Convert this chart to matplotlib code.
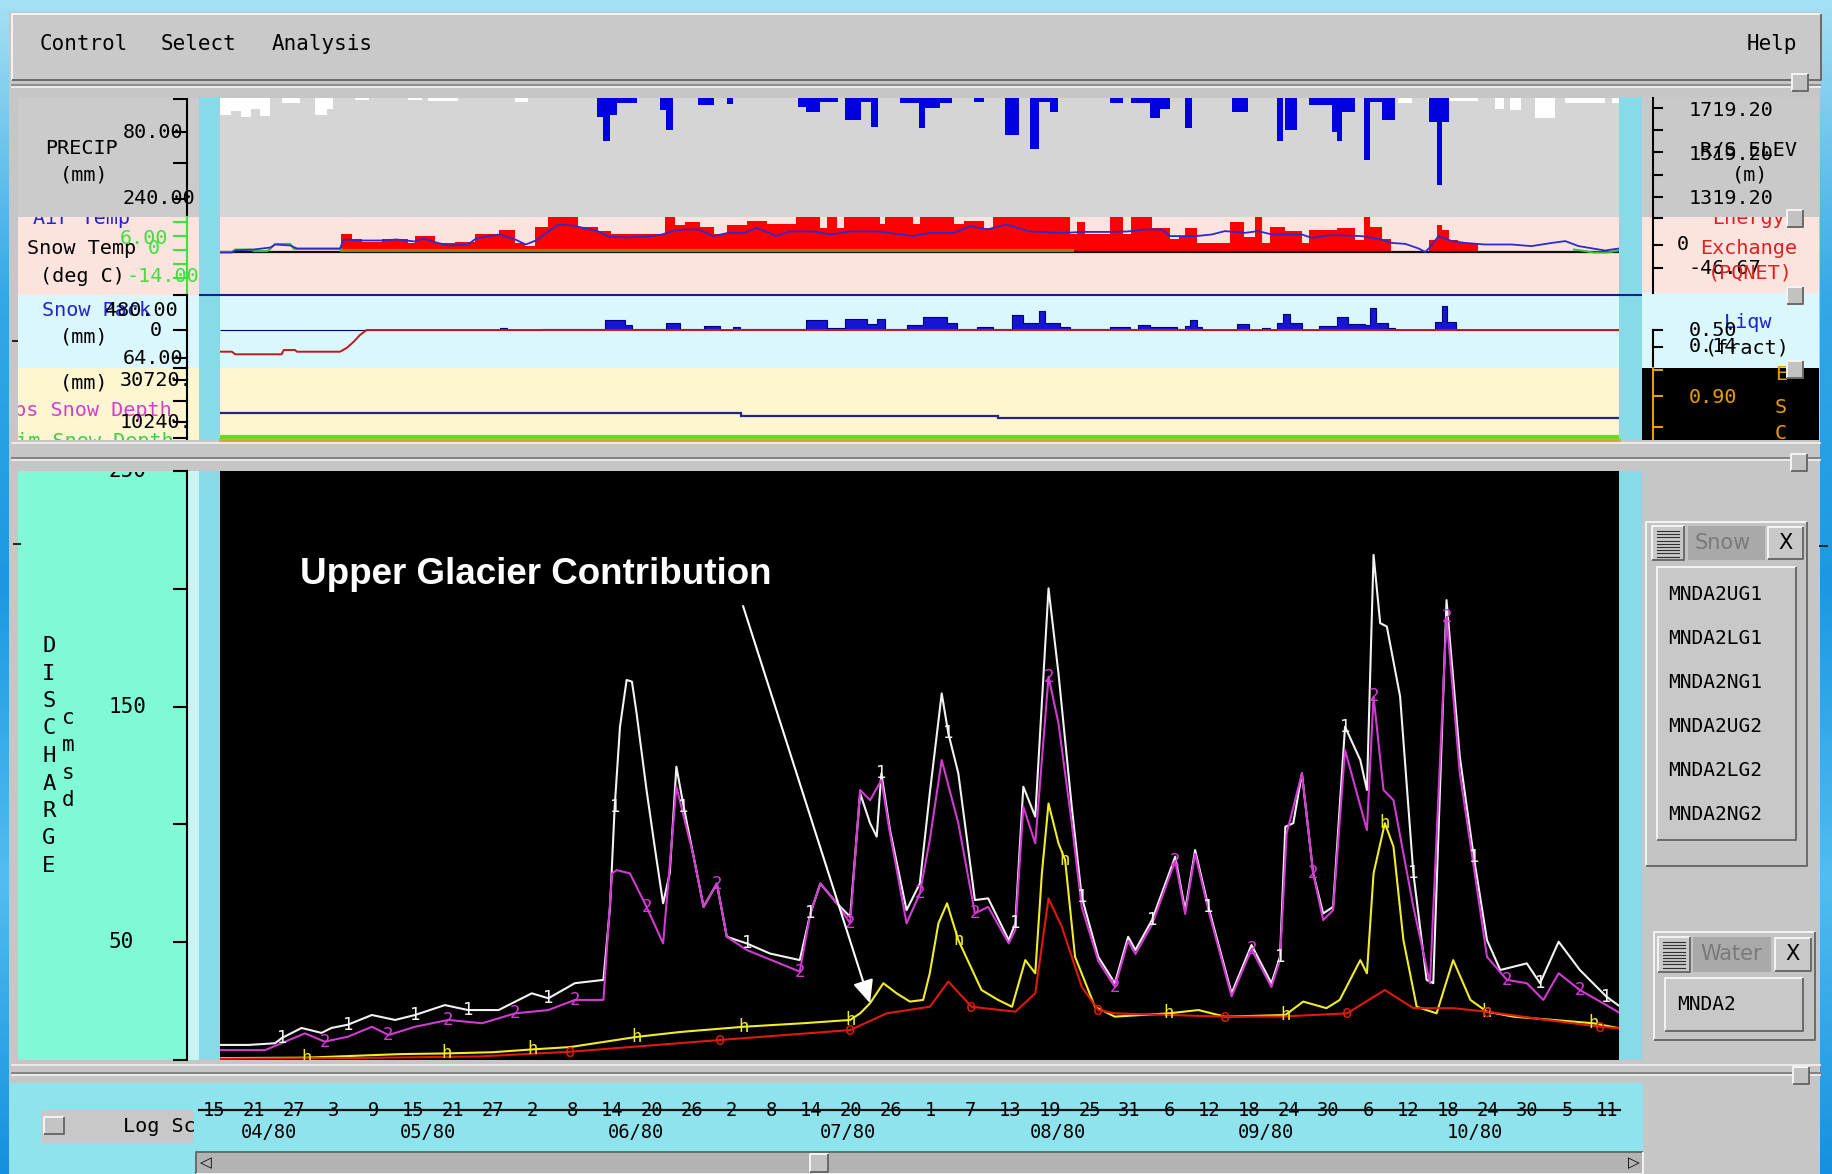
import datetime as dt

import numpy as np
import matplotlib
matplotlib.use("Agg")
import matplotlib.pyplot as plt
from matplotlib.colors import LinearSegmentedColormap
from matplotlib.patches import Rectangle
from matplotlib.transforms import Bbox, blended_transform_factory

W, H = 1833, 1174
MONO = "DejaVu Sans Mono"
START = dt.date(1980, 4, 15)
XLIM = (0.9, 211.8)

# ---- simulated discharge (cms) as (day after START, value) ----
q_total = [(0.15, 6.4), (5.2, 6.4), (9.2, 7.1), (10.2, 9.3), (13.2, 13.6), (16.2, 11.5), (17.7, 13.6),
           (20.2, 15.0), (23.8, 19.1), (27.3, 17.0), (30.3, 19.1), (34.8, 23.3), (38.3, 21.2), (42.9, 21.2),
           (47.9, 28.3), (50.4, 26.2), (54.4, 32.6), (58.7, 34.0), (59.7, 65.0), (60.4, 107.5), (61.2, 141.5),
           (62.2, 161.3), (63.0, 160.6), (63.7, 147.2), (65.2, 114.6), (66.5, 89.1), (67.7, 66.5), (68.7, 79.2),
           (69.7, 124.5), (70.8, 107.5), (72.3, 86.3), (73.8, 65.0), (75.8, 74.9), (77.3, 52.3), (80.3, 49.5),
           (83.8, 45.2), (88.3, 42.4), (89.9, 62.2), (91.4, 74.9), (93.9, 66.5), (95.9, 60.8), (97.4, 113.2),
           (98.9, 100.5), (99.9, 94.8), (100.6, 121.7), (101.9, 97.6), (104.4, 63.6), (106.4, 74.9),
           (107.9, 113.2), (109.7, 155.6), (110.7, 138.6), (112.2, 121.7), (114.7, 67.9), (116.7, 68.6),
           (119.8, 50.9), (120.8, 58.0), (122.0, 116.0), (123.8, 103.3), (125.8, 200.2), (127.3, 164.1),
           (129.3, 107.5), (130.8, 69.3), (133.3, 43.8), (135.8, 32.6), (137.8, 52.3), (138.9, 46.7),
           (141.4, 59.4), (144.9, 86.3), (146.4, 63.6), (147.9, 89.1), (149.9, 65.0), (153.4, 28.3),
           (156.4, 48.8), (159.4, 32.6), (160.7, 43.8), (161.5, 99.0), (162.7, 100.5), (164.0, 121.7),
           (165.7, 79.2), (167.2, 62.2), (168.7, 65.0), (170.5, 141.5), (172.8, 127.3), (173.8, 114.6),
           (174.8, 214.4), (175.8, 185.4), (176.8, 184.0), (178.8, 154.3), (180.8, 79.2), (182.8, 34.0),
           (183.8, 32.6), (185.8, 195.2), (187.8, 128.7), (189.9, 86.3), (191.9, 50.9), (193.9, 38.2),
           (195.9, 39.6), (197.9, 41.0), (199.9, 32.6), (202.7, 50.2), (205.9, 38.2), (209.9, 26.9), (212.0, 22.6)]

q_snow = [(0.15, 4.2), (7.7, 4.2), (13.7, 11.3), (16.7, 7.8), (20.2, 9.9), (23.8, 14.1), (26.3, 10.6),
          (30.3, 14.1), (35.3, 17.0), (40.4, 15.6), (45.4, 19.8), (50.4, 21.2), (54.4, 25.5), (58.7, 25.5),
          (60.0, 79.2), (60.7, 80.6), (62.7, 79.2), (65.2, 65.0), (67.7, 49.5), (69.7, 116.0), (72.3, 86.3),
          (73.8, 65.0), (75.8, 74.9), (77.3, 52.3), (80.3, 46.7), (88.3, 37.5), (89.9, 62.2), (91.4, 74.9),
          (93.9, 66.5), (95.9, 58.0), (97.4, 114.6), (98.9, 110.3), (100.6, 118.8), (101.9, 96.2),
          (104.4, 58.0), (106.4, 70.7), (107.9, 93.4), (109.7, 127.3), (112.2, 100.5), (114.7, 62.2),
          (116.7, 65.0), (119.8, 49.5), (120.8, 55.2), (122.0, 107.5), (123.8, 92.0), (125.8, 162.7),
          (127.3, 142.9), (129.3, 100.5), (130.8, 65.0), (133.3, 42.0), (135.8, 31.0), (137.8, 50.5),
          (138.9, 45.0), (141.4, 57.5), (144.9, 84.5), (146.4, 62.0), (147.9, 87.5), (149.9, 63.5),
          (153.4, 27.0), (156.4, 47.0), (159.4, 31.0), (160.7, 42.5), (161.7, 96.2), (164.0, 121.7),
          (165.7, 79.2), (167.2, 59.4), (168.7, 63.6), (170.5, 131.6), (173.8, 97.6), (174.8, 154.3),
          (176.3, 114.6), (177.8, 110.3), (180.8, 65.0), (183.3, 32.6), (185.8, 188.1), (187.8, 121.7),
          (189.9, 82.1), (191.9, 43.8), (194.9, 34.0), (197.9, 32.6), (200.4, 25.5), (202.7, 36.8),
          (205.9, 29.7), (209.9, 23.3), (212.0, 19.8)]

q_glacier = [(0.15, 0.8), (14.0, 1.0), (28.0, 2.5), (35.0, 2.8), (42.0, 3.3), (48.0, 4.5), (53.7, 5.5),
             (63.7, 9.8), (70.3, 11.9), (79.8, 14.1), (88.8, 15.6), (95.9, 17.0), (97.4, 19.8), (98.9, 24.1),
             (100.9, 32.6), (102.9, 28.3), (104.9, 24.8), (106.9, 25.5), (107.9, 36.8), (109.2, 58.0),
             (110.5, 66.5), (112.2, 50.9), (115.7, 29.7), (118.2, 25.5), (120.3, 22.6), (122.3, 42.4),
             (123.8, 36.8), (124.8, 79.2), (125.8, 108.9), (127.3, 92.0), (128.3, 84.9), (129.8, 43.8),
             (132.8, 22.6), (135.8, 18.4), (143.9, 19.8), (148.4, 21.2), (152.4, 18.4), (161.5, 19.1),
             (164.2, 24.8), (167.7, 22.0), (169.7, 25.5), (172.8, 42.4), (173.8, 36.8), (174.8, 79.2),
             (176.5, 100.5), (177.8, 90.6), (179.3, 50.9), (181.3, 22.6), (184.3, 19.8), (186.8, 42.4),
             (189.4, 25.5), (191.9, 20.5), (195.9, 18.4), (207.9, 15.6), (212.0, 13.4)]

q_base = [(0.15, 0.5), (20.0, 0.8), (40.0, 1.5), (53.7, 3.5), (76.3, 8.5), (95.9, 12.7), (101.4, 19.8),
          (107.9, 22.6), (110.7, 33.3), (114.2, 22.6), (120.8, 20.5), (123.8, 28.3), (125.8, 68.6),
          (127.8, 56.6), (130.8, 31.1), (133.3, 21.2), (135.8, 19.8), (152.4, 18.4), (160.7, 18.4),
          (170.8, 19.8), (176.5, 29.7), (180.8, 22.0), (186.8, 22.0), (191.9, 20.5), (200.9, 17.0),
          (209.0, 14.1), (212.0, 13.4)]

# ---- forcing panel: precipitation (start day, end day, mm) ----
rain = [(57.7, 58.7, 45), (58.7, 59.7, 103), (59.7, 60.7, 40), (60.7, 63.7, 12), (67.2, 68.2, 28),
        (68.2, 69.2, 75), (73.0, 75.3, 16), (77.3, 78.3, 14), (88.1, 89.3, 21), (89.3, 91.4, 33),
        (91.4, 94.1, 9), (95.1, 97.6, 52), (97.6, 99.1, 9), (99.1, 100.1, 68), (103.4, 106.2, 12),
        (106.2, 107.2, 71), (107.2, 109.4, 24), (109.4, 111.2, 12), (114.5, 116.0, 9), (119.3, 121.3, 87),
        (123.0, 124.3, 122), (124.3, 126.0, 9), (126.0, 127.3, 33), (135.1, 137.1, 12), (138.3, 141.1, 12),
        (141.1, 142.6, 47), (142.6, 144.1, 26), (146.4, 147.4, 71), (153.4, 155.9, 33), (160.2, 161.2, 103),
        (161.5, 163.2, 75), (165.0, 168.5, 16), (168.5, 169.3, 80), (169.3, 170.0, 103), (170.0, 172.0, 33),
        (173.3, 174.3, 146), (174.3, 176.0, 9), (176.0, 178.0, 52), (183.1, 184.3, 56), (184.3, 185.1, 205),
        (185.1, 186.1, 56)]
snowfall = [(0.9, 2.5, 40), (2.5, 4.0, 30), (4.0, 5.5, 45), (5.5, 7.0, 25), (7.0, 8.4, 42), (10.2, 13.0, 12),
            (15.2, 17.0, 40), (17.0, 18.0, 25), (21.3, 23.3, 5), (29.3, 31.3, 5), (32.3, 36.8, 6),
            (45.4, 47.4, 10), (178.5, 180.6, 12), (183.0, 190.6, 8), (193.1, 194.4, 26), (195.4, 197.1, 28),
            (199.2, 202.2, 47), (203.7, 209.7, 12), (210.7, 211.8, 12)]

# ---- energy exchange (PQNET) steps and temperatures (deg C) ----
energy_edges = [0.9, 19.2, 20.8, 22.3, 25.3, 29.3, 30.3, 33.3, 36.3, 39.3, 42.9, 45.4, 46.9, 48.4, 50.4,
                54.9, 57.9, 59.9, 62.9, 68.0, 69.5, 71.0, 73.3, 75.3, 77.3, 80.3, 83.3, 87.8, 91.4, 92.4,
                93.9, 94.9, 100.4, 101.2, 105.4, 106.4, 111.5, 113.0, 116.0, 117.5, 129.0, 130.1, 131.3,
                135.1, 137.1, 138.3, 141.4, 144.1, 145.4, 146.4, 148.2, 153.2, 155.2, 157.0, 158.0, 159.2,
                161.5, 164.0, 165.0, 169.3, 172.0, 173.3, 174.3, 176.0, 177.5, 183.1, 184.3, 185.1, 186.1,
                187.6, 190.6, 211.8]
energy_val = [0, 40, 30, 23, 30, 19, 37, 19, 23, 40, 51, 19, 12, 58, 82, 58, 47, 42, 40, 82, 63, 70, 58, 42,
              63, 72, 65, 82, 54, 82, 54, 82, 65, 82, 65, 82, 65, 72, 54, 82, 40, 68, 40, 82, 40, 82, 54, 30,
              35, 54, 19, 68, 35, 82, 19, 58, 47, 19, 51, 54, 28, 82, 58, 30, 0, 28, 63, 51, 28, 19, 0]
air_temp = [(0.9, -1.5), (2.7, -1.5), (3.2, -0.5), (6.0, 0.0), (8.5, 1.0), (9.2, 2.5), (11.5, 2.0),
            (12.5, 0.5), (19.0, 0.5), (19.5, 5.0), (22.0, 4.5), (25.3, 4.5), (27.5, 5.0), (30.3, 4.0),
            (31.5, 5.5), (33.5, 3.5), (35.3, 2.0), (38.3, 2.5), (39.5, 5.5), (43.0, 7.5), (45.4, 5.0),
            (47.0, 2.5), (48.5, 4.5), (50.4, 9.0), (52.0, 12.5), (54.0, 12.0), (55.4, 11.0), (58.0, 9.0),
            (59.4, 6.5), (62.0, 6.0), (65.4, 6.5), (67.5, 7.5), (69.5, 9.5), (71.0, 10.0), (73.0, 10.0),
            (75.3, 6.7), (77.5, 8.3), (80.0, 8.3), (81.8, 10.8), (84.8, 6.7), (86.8, 9.0), (90.4, 9.0),
            (92.9, 7.5), (96.0, 9.0), (100.0, 9.0), (102.5, 8.0), (105.4, 6.7), (108.0, 8.3), (111.5, 8.3),
            (114.0, 11.7), (116.5, 10.0), (119.5, 12.5), (123.0, 9.0), (128.0, 8.3), (131.0, 8.8),
            (135.0, 8.8), (137.6, 9.0), (140.6, 10.0), (142.9, 10.0), (144.1, 6.7), (148.0, 6.7),
            (150.4, 7.5), (152.4, 9.2), (155.4, 8.3), (157.4, 9.2), (159.5, 7.5), (164.0, 7.5), (165.5, 5.8),
            (168.5, 7.2), (173.0, 6.7), (176.0, 5.0), (177.5, 3.3), (179.6, 2.8), (181.6, 0.5), (182.6, -1.2),
            (183.2, 0.8), (184.6, 6.7), (186.6, 4.2), (188.6, 3.3), (191.6, 2.5), (195.6, 2.5), (198.6, 1.7),
            (201.7, 3.3), (203.7, 4.2), (205.7, 1.7), (209.7, -0.5), (211.8, 0.5)]
snow_temp = [(0.9, -1.2), (2.7, -1.2), (3.2, 0.0), (5.5, 0.0), (6.0, -0.8), (8.0, -0.8), (8.5, 0.3),
             (9.2, 2.8), (11.5, 2.8), (12.0, 0.3), (19.2, 0.3), (19.2, np.nan), (205.0, 0.0), (208.0, -1.5),
             (210.0, -1.5), (211.8, -0.5)]
snow_temp_ripe = [(19.2, 0.0), (129.4, 0.0)]

# ---- snow pack: liquid water steps (mm) and cold content (mm) ----
liq_edges = [0.9, 43.1, 44.1, 49.4, 59.0, 62.0, 63.0, 68.2, 70.3, 73.8, 76.3, 78.3, 79.3, 89.3, 92.4, 95.1,
             98.4, 99.9, 101.2, 104.4, 106.9, 110.5, 112.0, 115.0, 117.5, 120.3, 122.0, 124.3, 125.3, 127.5,
             129.0, 135.1, 138.1, 139.3, 141.1, 145.2, 146.4, 147.2, 148.2, 149.0, 154.2, 156.0, 158.0,
             159.2, 160.2, 161.2, 162.2, 164.0, 166.5, 169.3, 171.0, 173.5, 174.3, 175.1, 177.0, 178.0,
             184.1, 185.1, 185.9, 187.3, 211.8]
liq_mm = [0, 48, 0, 24, 240, 120, 24, 168, 24, 96, 0, 72, 24, 240, 48, 264, 144, 264, 24, 120, 312, 168, 24,
          72, 24, 360, 168, 456, 168, 72, 24, 72, 24, 120, 72, 24, 96, 240, 72, 12, 144, 12, 48, 0, 168, 384,
          168, 0, 96, 312, 144, 120, 528, 168, 48, 0, 192, 576, 192, 0]
cold_content = [(0.9, -521), (2.7, -521), (3.2, -583), (10.2, -583), (10.5, -480), (12.2, -480),
                (12.5, -521), (19.0, -521), (20.0, -430), (21.0, -290), (22.0, -120), (23.0, 0), (211.8, 0)]

# ---- snow depth (mm) ----
depth_edges = [0.9, 79.5, 118.2, 211.8]
depth_obs = [14480, 13310, 12340]
depth_sim = [(0.9, 2930), (211.8, 2930)]

snow_stations = ["MNDA2UG1", "MNDA2LG1", "MNDA2NG1", "MNDA2UG2", "MNDA2LG2", "MNDA2NG2"]
water_stations = ["MNDA2"]
month_pos = [8.3, 32.3, 63.6, 95.6, 127.2, 158.6, 190.1]

GUI = "#c6c6c6"
PINK = "#fde3de"
LCYAN = "#d9f7fc"
LYEL = "#fdf6d1"
STRIP = "#86dbe6"


def rect(x0, y0, x1, y1):
    return [x0 / W, 1 - y1 / H, (x1 - x0) / W, (y1 - y0) / H]


def pixel_axes(x0, y0, x1, y1):
    ax = fig.add_axes(rect(x0, y0, x1, y1))
    ax.set_xlim(x0, x1)
    ax.set_ylim(y1, y0)
    ax.set_axis_off()
    return ax


def clean(ax):
    ax.set_xticks([])
    ax.set_yticks([])
    for s in ax.spines.values():
        s.set_visible(False)


def box(ax, x0, y0, x1, y1, fc, z=2):
    ax.add_patch(Rectangle((x0, y0), x1 - x0, y1 - y0, fc=fc, ec="none", zorder=z))


def bevel(ax, x0, y0, x1, y1, fc, raised=True, lw=1.4, z=2):
    box(ax, x0, y0, x1, y1, fc, z)
    light, dark = ("#f4f4f4", "#6a6a6a") if raised else ("#6a6a6a", "#f4f4f4")
    ax.plot([x0, x0, x1], [y1, y0, y0], color=light, lw=lw, zorder=z + 0.1, solid_capstyle="butt")
    ax.plot([x0, x1, x1], [y1, y1, y0], color=dark, lw=lw, zorder=z + 0.1, solid_capstyle="butt")


def label(ax, x, y, s, color="black", ha="left", size=14.5, z=4, family=MONO, clip=True):
    return ax.text(x, y, s, color=color, ha=ha, va="center", fontsize=size, family=family,
                   zorder=z, clip_on=clip)


def series(pairs):
    a = np.array(pairs, dtype=float)
    return a[:, 0], a[:, 1]


fig = plt.figure(figsize=(W / 100, H / 100), dpi=100)

# ---------------- window chrome ----------------
base = pixel_axes(0, 0, W, H)
sky = LinearSegmentedColormap.from_list("sky", ["#a6e0f4", "#35a8e6", "#1c98e2", "#52bdf0", "#1690de"])
base.imshow(np.linspace(0, 1, 256)[:, None], cmap=sky, extent=(0, W, H, 0), aspect="auto", zorder=0)
box(base, 9, 12, 1820, H, GUI, z=1)

bevel(base, 12, 14, 1821, 80, "#c9c9c9")
for x, s in ((40, "Control"), (161, "Select"), (272, "Analysis"), (1747, "Help")):
    label(base, x, 44, s, size=15, clip=False)
for y, c in ((85, "#8a8a8a"), (87, "#eeeeee"), (443, "#eeeeee"), (458, "#7c7c7c"), (460, "#eeeeee"),
             (1065, "#eeeeee"), (1073, "#7c7c7c"), (1075, "#eeeeee")):
    base.plot([12, 1820], [y, y], color=c, lw=1.3, zorder=2)

box(base, 199, 97, 220, 440, STRIP, z=3)
box(base, 1619, 97, 1642, 440, STRIP, z=3)
base.plot([199, 1642], [295, 295], color="#1a1a90", lw=1.5, zorder=4)

# bottom panel side areas
box(base, 18, 471, 187, 1060, "#80f9d6", z=3)
box(base, 187, 471, 199, 1060, "#c9f4f1", z=3)
box(base, 199, 471, 220, 1060, STRIP, z=3)
box(base, 1619, 471, 1642, 1060, STRIP, z=3)
for i, ch in enumerate("DISCHARGE"):
    label(base, 49, 646 + i * 27.5, ch, ha="center", size=16, clip=False)
for i, ch in enumerate("cmsd"):
    label(base, 68, 718 + i * 27.3, ch, ha="center", size=15, clip=False)
for x0, x1, y in ((13, 19, 341), (14, 20, 544), (1820, 1827, 546)):
    base.plot([x0, x1], [y, y], color="#202020", lw=1.4, zorder=4)

# date area
box(base, 9, 1083, 1643, H, "#8ee3ed", z=3)
box(base, 41, 1110, 193, 1143, "#c8c8c8", z=4)
bevel(base, 44, 1117, 64, 1134, "#c4c4c4", z=5)
label(base, 123, 1126, "Log Sc", size=14.5, z=6, clip=False)
bevel(base, 196, 1152, 1643, 1174, "#b3b3b3", raised=False, z=4)
bevel(base, 810, 1154, 828, 1172, "#c2c2c2", z=5)
label(base, 206, 1163, "◁", ha="center", size=11, z=6, family="DejaVu Sans", clip=False)
label(base, 1634, 1163, "▷", ha="center", size=11, z=6, family="DejaVu Sans", clip=False)
base.plot([199, 1620], [1110, 1110], color="#111111", lw=1.6, zorder=7)

# station lists
bevel(base, 1646, 522, 1807, 866, "#c4c4c4", z=4)
bevel(base, 1654, 932, 1815, 1040, "#c4c4c4", z=4)
for (gx0, gy0, gx1, gy1), (tx0, tx1), (bx0, bx1), title in (
        ((1652, 526, 1684, 560), (1688, 1765), (1768, 1803), "Snow"),
        ((1658, 937, 1690, 972), (1693, 1771), (1775, 1811), "Water")):
    bevel(base, gx0, gy0, gx1, gy1, "#c8c8c8", z=5)
    for yy in np.arange(gy0 + 5, gy1 - 3, 3.2):
        base.plot([gx0 + 5, gx1 - 5], [yy, yy], color="#303030", lw=0.8, zorder=6)
    box(base, tx0, gy0, tx1, gy1, "#a9a9a9", z=5)
    label(base, tx0 + 7, (gy0 + gy1) / 2, title, color="#7a7a7a", size=15, z=6,
          family="DejaVu Sans", clip=False)
    bevel(base, bx0, gy0 + 1, bx1, gy1 - 1, "#c8c8c8", z=5)
    label(base, (bx0 + bx1) / 2, (gy0 + gy1) / 2, "X", ha="center", size=15, z=6,
          family="DejaVu Sans", clip=False)
bevel(base, 1657, 567, 1796, 840, "#c8c8c8", z=5)
for i, s in enumerate(snow_stations):
    label(base, 1668, 594 + i * 44.2, s, size=14, z=6, clip=False)
bevel(base, 1665, 978, 1803, 1031, "#c8c8c8", z=5)
for s in water_stations:
    label(base, 1677, 1005, s, size=14, z=6, clip=False)

# ---------------- left axis labels of the forcing panel ----------------
axl = pixel_axes(18, 98, 199, 440)
box(axl, 18, 98, 199, 217, "#cbcbcb", z=3)
box(axl, 18, 217, 199, 295, PINK, z=1)
box(axl, 18, 295, 199, 368, LCYAN, z=1)
box(axl, 18, 368, 199, 440, LYEL, z=1)
label(axl, 33, 219, "Air Temp", color="#2424c8", z=2)
for x, y, s, c, ha in ((45, 148, "PRECIP", "black", "left"), (60, 175, "(mm)", "black", "left"),
                       (123, 132, "80.00", "black", "left"), (123, 199, "240.00", "black", "left"),
                       (27, 248, "Snow Temp", "black", "left"), (120, 238, "6.00", "#3fe03f", "left"),
                       (148, 249, "0", "#3fe03f", "left"), (40, 276, "(deg C)", "black", "left"),
                       (127, 277, "-14.00", "#3fe03f", "left"), (42, 310, "Snow Pack", "#2424c8", "left"),
                       (105, 310, "480.00", "black", "left"), (60, 337, "(mm)", "black", "left"),
                       (150, 330, "0", "black", "left"), (123, 358, "64.00", "black", "left"),
                       (120, 380, "30720.", "black", "left"), (60, 383, "(mm)", "black", "left"),
                       (172, 410, "Obs Snow Depth", "#d040d0", "right"), (120, 422, "10240.", "black", "left"),
                       (174, 441, "Sim Snow Depth", "#3fcf3f", "right")):
    label(axl, x, y, s, color=c, ha=ha)
axl.plot([187, 187], [98, 217], color="black", lw=1.5, zorder=5)
axl.plot([187, 187], [217, 295], color="#3fe03f", lw=1.5, zorder=5)
axl.plot([187, 187], [295, 440], color="black", lw=1.5, zorder=5)
for y, c in [(y, "black") for y in (99, 132, 163, 199, 295, 330, 358, 368, 380, 401, 422, 438)] + \
            [(y, "#3fe03f") for y in (222, 236, 250, 264, 278)]:
    axl.plot([174, 187], [y, y], color=c, lw=1.5, zorder=5)

# ---------------- right axis labels of the forcing panel ----------------
axr = pixel_axes(1642, 97, 1819, 440)
box(axr, 1642, 97, 1819, 217, "#c9c9c9", z=3)
box(axr, 1642, 217, 1819, 293, PINK, z=1)
box(axr, 1642, 293, 1819, 368, LCYAN, z=1)
box(axr, 1642, 368, 1819, 440, "black", z=1)
label(axr, 1712, 219, "Energy", color="#e02020", z=2)
for x, y, s, c in ((1689, 110, "1719.20", "black"), (1689, 155, "1519.20", "black"),
                   (1700, 150, "R/S ELEV", "black"), (1732, 175, "(m)", "black"),
                   (1689, 198, "1319.20", "black"), (1677, 245, "0", "black"),
                   (1700, 248, "Exchange", "#e02020"), (1689, 268, "-46.67", "black"),
                   (1708, 273, "(PQNET)", "#e02020"), (1724, 322, "Liqw", "#2424c8"),
                   (1689, 330, "0.50", "black"), (1689, 347, "0.14", "black"),
                   (1705, 348, "(fract)", "black"), (1689, 397, "0.90", "#e89c00")):
    label(axr, x, y, s, color=c)
for y, ch in zip((375, 407, 433), "ESC"):
    label(axr, 1781, y, ch, color="#e89c00", ha="center")
axr.plot([1653, 1653], [97, 293], color="black", lw=1.5, zorder=5)
axr.plot([1653, 1653], [330, 367], color="black", lw=1.5, zorder=5)
axr.plot([1653, 1653], [368, 440], color="#e89c00", lw=1.5, zorder=5)
for y in (108, 130, 152, 175, 197, 218, 245, 268, 330, 347):
    axr.plot([1653, 1662], [y, y], color="black", lw=1.5, zorder=5)
for y in (370, 396, 427):
    axr.plot([1653, 1662], [y, y], color="#e89c00", lw=1.5, zorder=5)

# ---------------- forcing data ----------------
ax_p = fig.add_axes(rect(220, 98, 1619, 217))
ax_p.set_facecolor("#d5d5d5")
clean(ax_p)
ax_p.set_xlim(*XLIM)
ax_p.set_ylim(282, 0)
for data, color in ((snowfall, "white"), (rain, "#0000e0")):
    a = np.array(data, dtype=float)
    ax_p.bar(a[:, 0], a[:, 2], width=a[:, 1] - a[:, 0], align="edge", color=color, edgecolor="none")

ax_t = fig.add_axes(rect(220, 217, 1619, 295))
ax_t.set_facecolor(PINK)
clean(ax_t)
ax_t.set_xlim(*XLIM)
ax_t.set_ylim(-101.5, 80.5)
ax_t.stairs(energy_val, energy_edges, fill=True, color="#ff0000", baseline=0)
ax_t.axhline(0, color="#101010", lw=1.6)
ax_tt = ax_t.twinx()
clean(ax_tt)
ax_tt.set_xlim(*XLIM)
ax_tt.set_ylim(-22.75, 16.25)
x, y = series(snow_temp_ripe)
ax_tt.plot(x, y, color="#9a7c08", lw=2.2)
x, y = series(snow_temp)
ax_tt.plot(x, y, color="#30c030", lw=1.4)
x, y = series(air_temp)
ax_tt.plot(x, y, color="#2b2bd0", lw=1.3)

ax_s = fig.add_axes(rect(220, 295, 1619, 368))
ax_s.set_facecolor(LCYAN)
clean(ax_s)
ax_s.set_xlim(*XLIM)
ax_s.set_ylim(-912, 840)
ax_s.stairs(liq_mm, liq_edges, fill=True, color="#1616d2", baseline=0)
ax_s.stairs(liq_mm, liq_edges, color="#000080", lw=0.8, baseline=0)
x, y = series(cold_content)
ax_s.plot(x, y, color="#c41818", lw=1.4)
ax_s.spines["top"].set_visible(True)
ax_s.spines["top"].set_color("#1a1a90")
ax_s.spines["top"].set_linewidth(1.5)

ax_d = fig.add_axes(rect(220, 368, 1619, 440))
ax_d.set_facecolor(LYEL)
clean(ax_d)
ax_d.set_xlim(*XLIM)
ax_d.set_ylim(1463, 36571)
ax_d.stairs(depth_obs, depth_edges, color="#23238f", lw=1.6, baseline=None)
x, y = series(depth_sim)
ax_d.plot(x, y, color="#6ad828", lw=3)
ax_d.spines["bottom"].set_visible(True)
ax_d.spines["bottom"].set_color("#d8a040")
ax_d.spines["bottom"].set_linewidth(2)

# ---------------- discharge ----------------
ax_q = fig.add_axes(rect(220, 471, 1619, 1060))
ax_q.set_facecolor("black")
ax_q.set_xlim(*XLIM)
ax_q.set_ylim(0, 250)
for side in ("top", "right", "bottom"):
    ax_q.spines[side].set_visible(False)
ax_q.spines["left"].set_position(("outward", 33 * 0.72))
ax_q.spines["left"].set_linewidth(1.5)
ax_q.set_xticks([])
ax_q.set_yticks(np.arange(0, 251, 50))
ax_q.tick_params(axis="y", length=10, width=1.5, direction="out", labelleft=False)
# the top label sits half under the sash, as in the tool
clip_box = Bbox.from_extents(0, 0, W, H - 472)
for v in (50, 150, 250):
    t = ax_q.text((109 - 220) / 1399, v, str(v), transform=ax_q.get_yaxis_transform(),
                  ha="left", va="center", fontsize=15, family=MONO, clip_on=True)
    t.set_clip_path(None)
    t.set_clip_box(clip_box)

curves = ((q_total, "#f2f2f2", "1", np.arange(10.5, 212, 10)),
          (q_snow, "#d23ad2", "2", np.arange(15.5, 212, 10)),
          (q_glacier, "#f0ec2a", "h", np.arange(16.5, 212, 16)),
          (q_base, "#e01a0a", "o", np.arange(57.5, 212, 19)))
for pairs, color, sym, days in curves:
    x, y = series(pairs)
    ax_q.plot(x, y, color=color, lw=1.5)
    for d in days:
        i = int(np.abs(x - d).argmin())
        ax_q.text(x[i], y[i], sym, color=color, fontsize=12.5, family=MONO,
                  ha="center", va="center", clip_on=True)

gx, gy = series(q_glacier)
k = int(np.abs(gx - 99).argmin())
ax_q.annotate("", xy=(gx[k], gy[k]), xytext=(79.75, 192.7),
              arrowprops=dict(arrowstyle="-|>,head_length=1.0,head_width=0.45", color="white",
                              lw=1.5, shrinkA=0, shrinkB=0, mutation_scale=14))
ax_q.text(12.97, 205.9, "Upper Glacier Contribution", color="white", fontsize=26.5,
          fontweight="bold", family="Liberation Sans", ha="left", va="center")

# date scale under the discharge plot
date_tr = blended_transform_factory(ax_q.transData, base.transData)
for d in range(0, 211, 6):
    day = (START + dt.timedelta(days=d)).day
    base.text(d, 1110, str(day), transform=date_tr, ha="center", va="center",
              fontsize=13.5, family=MONO, zorder=6)
for i, d in enumerate(month_pos):
    base.text(d, 1133, f"{4 + i:02d}/80", transform=date_tr, ha="center", va="center",
              fontsize=13.5, family=MONO, zorder=6)

# sash knobs drawn above every panel
top = pixel_axes(0, 0, W, H)
for kx, ky in ((1800, 82), (1795, 218), (1795, 295), (1795, 369), (1799, 462), (1801, 1075)):
    bevel(top, kx - 8, ky - 8, kx + 8, ky + 9, "#c2c2c2", z=5)

fig.savefig("out.png", dpi=100)
